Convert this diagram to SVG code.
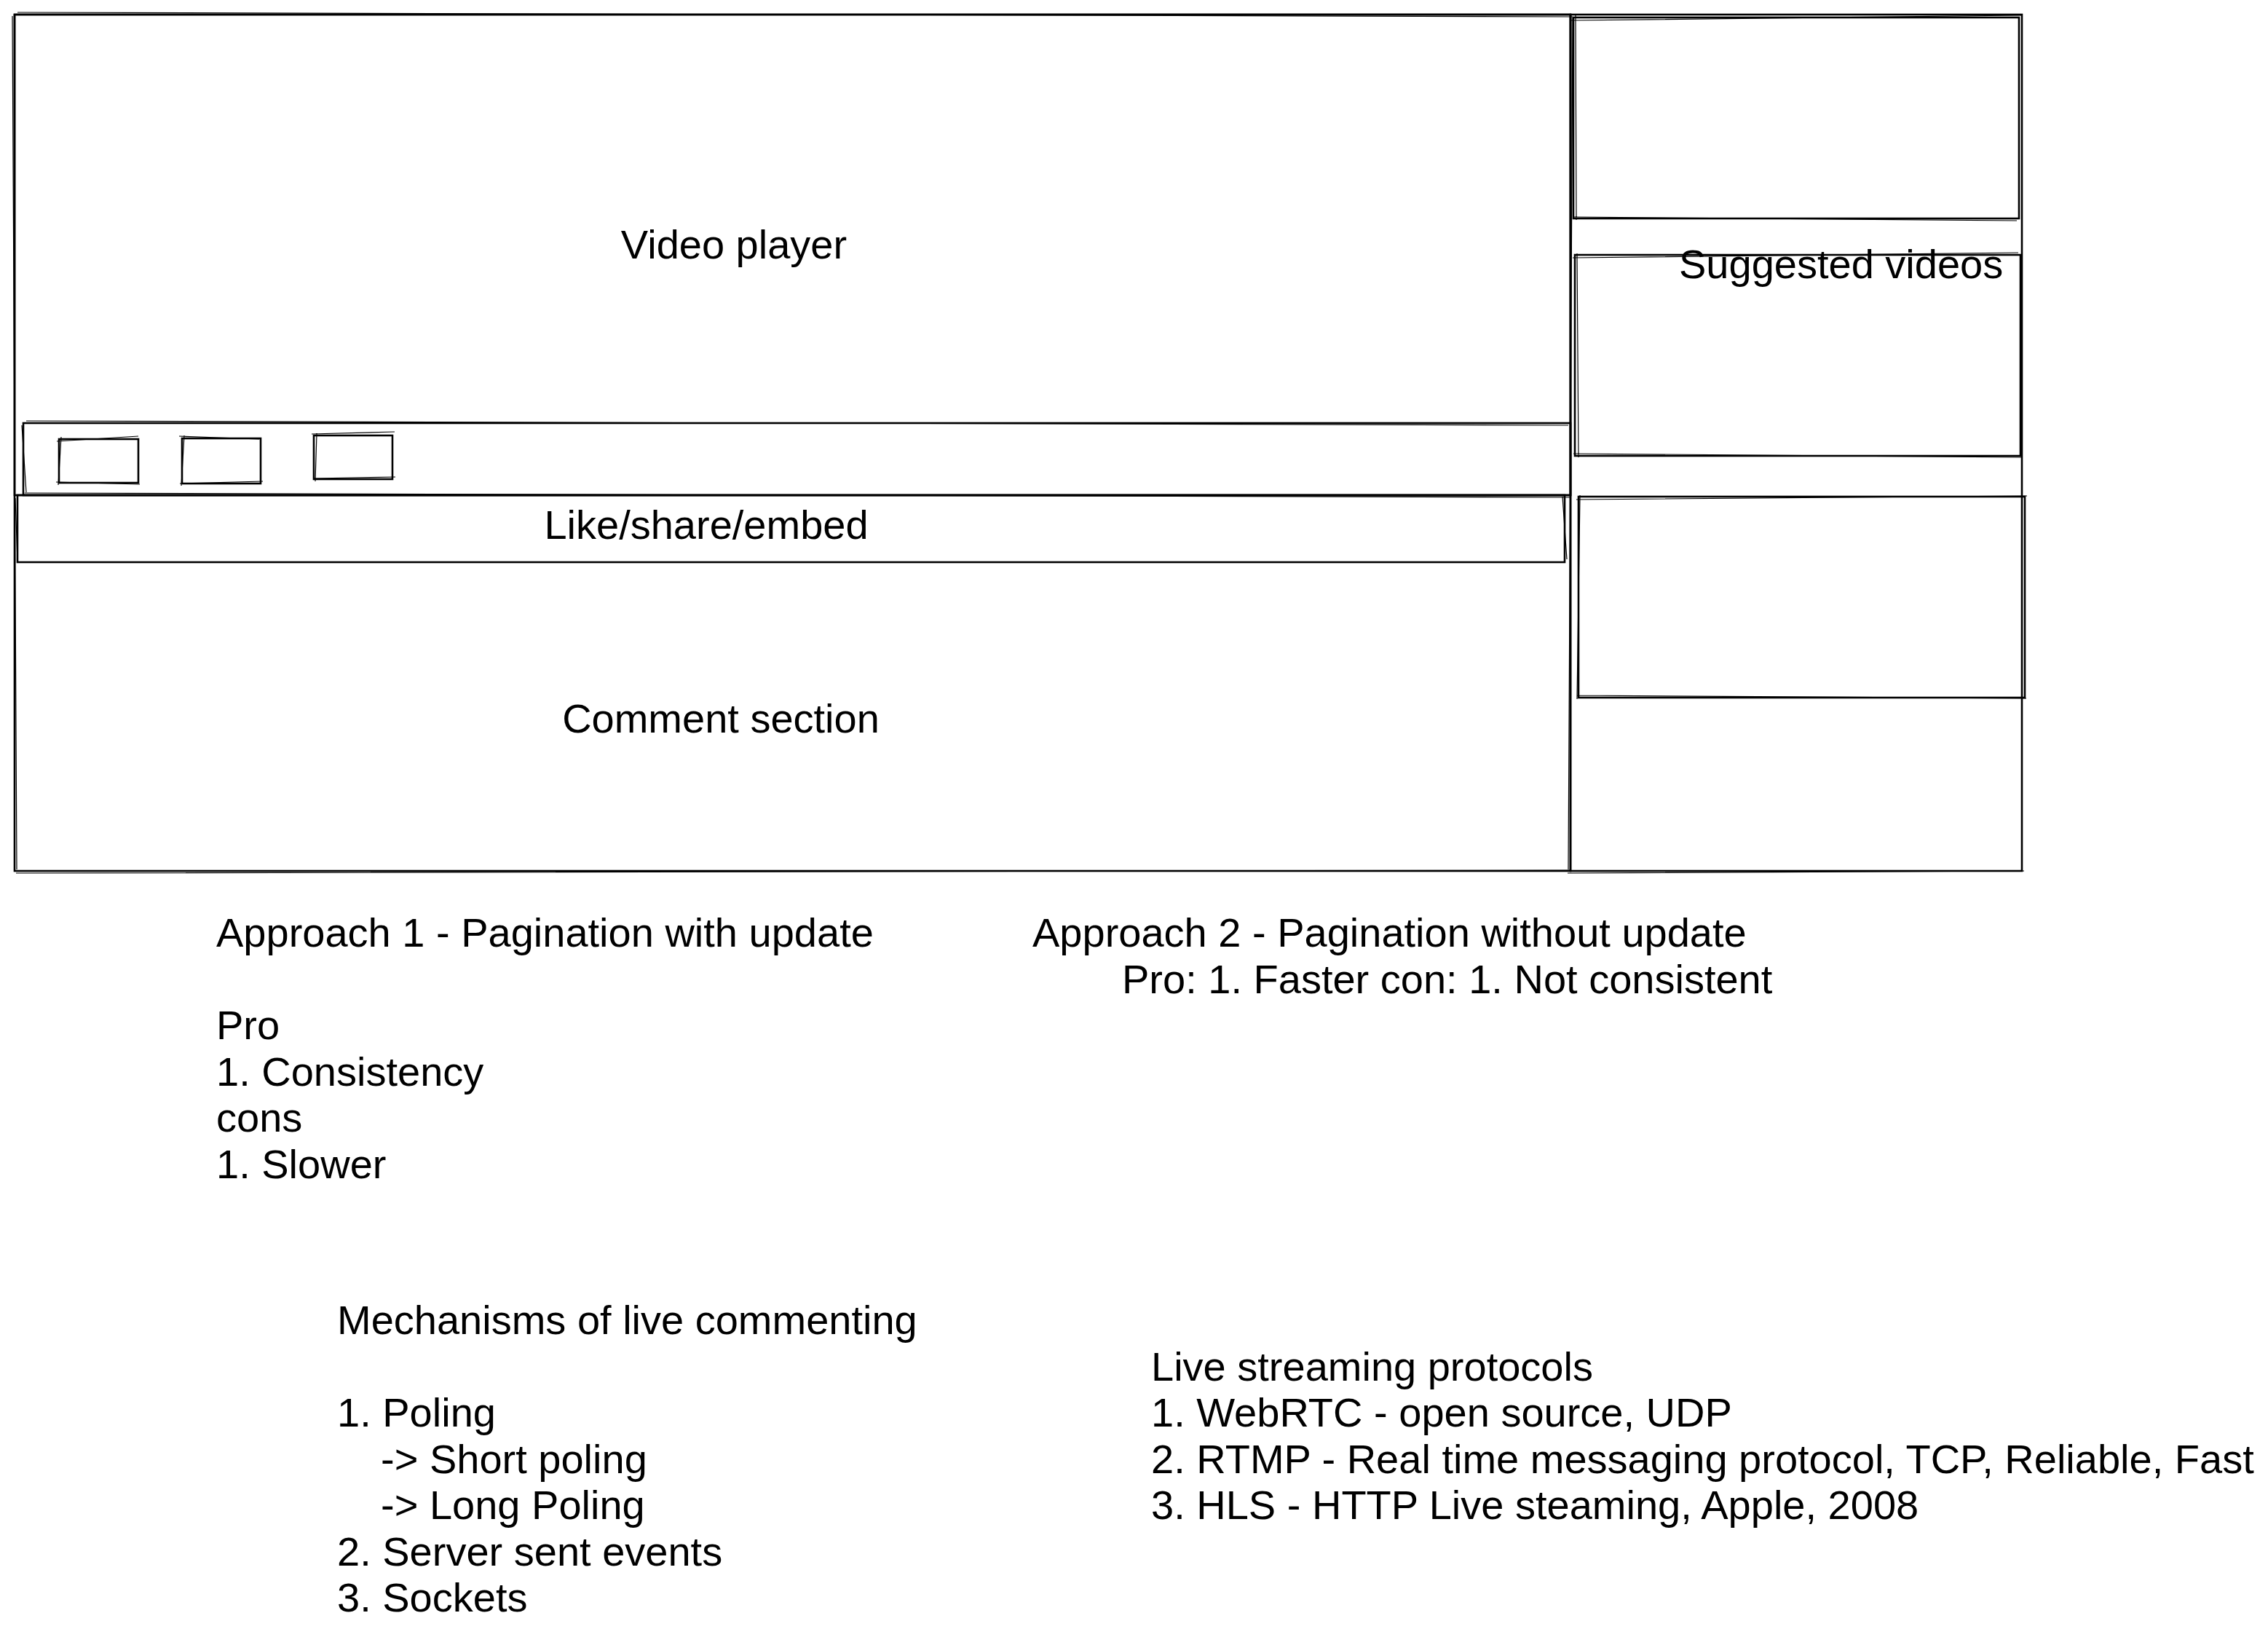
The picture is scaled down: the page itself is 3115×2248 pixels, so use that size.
<svg xmlns="http://www.w3.org/2000/svg" width="3115" height="2248" viewBox="0 0 3115 2248">
  <style>
    .box { fill: none; stroke: #000; stroke-width: 2.6; }
    .box2 { fill: none; stroke: #000; stroke-width: 1.2; }
    .t { font-family: "Liberation Sans", Arial, Helvetica, sans-serif; font-size: 56px; fill: #000; }
    .c { text-anchor: middle; }
  </style>
  <rect width="3115" height="2248" fill="#fff"/>

  <g id="page">
    <rect class="box" x="20" y="20" width="2137" height="1176"/>
    <path class="box2" d="M24 17 L2160 23 M17 22 L23 1194 M22 1199 L2158 1195"/>
  </g>

  <g id="video-player">
    <rect class="box" x="20" y="20" width="2137" height="660"/>
    <text class="t c" x="1008" y="355">Video player</text>
  </g>

  <g id="controls-bar">
    <rect class="box" x="32" y="581" width="2125" height="99"/>
    <path class="box2" d="M36 578 L2154 584 M30 584 L36 676 M34 677 L2156 683"/>
  </g>

  <g id="button-1">
    <rect class="box" x="81" y="603" width="109" height="60"/>
    <path class="box2" d="M78 606 L190 599 M84 600 L80 666 M77 662 L192 665"/>
  </g>
  <g id="button-2">
    <rect class="box" x="250" y="602" width="108" height="62"/>
    <path class="box2" d="M246 599 L356 603 M253 598 L249 667 M247 664 L361 661"/>
  </g>
  <g id="button-3">
    <rect class="box" x="431" y="598" width="108" height="60"/>
    <path class="box2" d="M428 596 L542 593 M435 595 L433 661 M430 657 L543 655"/>
  </g>

  <g id="like-share-embed">
    <rect class="box" x="24" y="680" width="2125" height="92"/>
    <path class="box2" d="M21 684 L24 770 M2146 682 L2152 768"/>
    <text class="t c" x="970" y="740">Like/share/embed</text>
  </g>

  <g id="comment-section">
    <text class="t c" x="990" y="1006">Comment section</text>
  </g>

  <g id="suggested-videos">
    <rect class="box" x="2157" y="20" width="620" height="1176"/>
    <path class="box2" d="M2160 24 L2154 1194 M2153 1199 L2780 1196"/>
    <text class="t" x="2306" y="382">Suggested videos</text>
  </g>

  <g id="suggested-1">
    <rect class="box" x="2161" y="24" width="612" height="276"/>
    <path class="box2" d="M2158 28 L2776 21 M2164 21 L2165 302 M2162 298 L2770 303"/>
  </g>
  <g id="suggested-2">
    <rect class="box" x="2163" y="350" width="612" height="276"/>
    <path class="box2" d="M2160 354 L2772 347 M2166 348 L2168 628 M2161 623 L2778 628"/>
  </g>
  <g id="suggested-3">
    <rect class="box" x="2168" y="682" width="613" height="276"/>
    <path class="box2" d="M2165 686 L2784 681 M2170 680 L2166 960 M2166 955 L2783 959"/>
  </g>

  <g id="connectors"></g>

  <g id="approach-1">
    <text class="t" x="297" y="1300">Approach 1 - Pagination with update</text>
    <text class="t" x="297" y="1427">Pro</text>
    <text class="t" x="297" y="1491">1. Consistency</text>
    <text class="t" x="297" y="1554">cons</text>
    <text class="t" x="297" y="1618">1. Slower</text>
  </g>

  <g id="approach-2">
    <text class="t" x="1418" y="1300">Approach 2 - Pagination without update</text>
    <text class="t" x="1541" y="1364">Pro: 1. Faster con: 1. Not consistent</text>
  </g>

  <g id="live-commenting">
    <text class="t" x="463" y="1832">Mechanisms of live commenting</text>
    <text class="t" x="463" y="1959">1. Poling</text>
    <text class="t" x="523" y="2023">-&gt; Short poling</text>
    <text class="t" x="523" y="2086">-&gt; Long Poling</text>
    <text class="t" x="463" y="2150">2. Server sent events</text>
    <text class="t" x="463" y="2213">3. Sockets</text>
  </g>

  <g id="live-streaming">
    <text class="t" x="1581" y="1896">Live streaming protocols</text>
    <text class="t" x="1581" y="1959">1. WebRTC - open source, UDP</text>
    <text class="t" x="1581" y="2023">2. RTMP - Real time messaging protocol, TCP, Reliable, Fast</text>
    <text class="t" x="1581" y="2086">3. HLS - HTTP Live steaming, Apple, 2008</text>
  </g>
</svg>
